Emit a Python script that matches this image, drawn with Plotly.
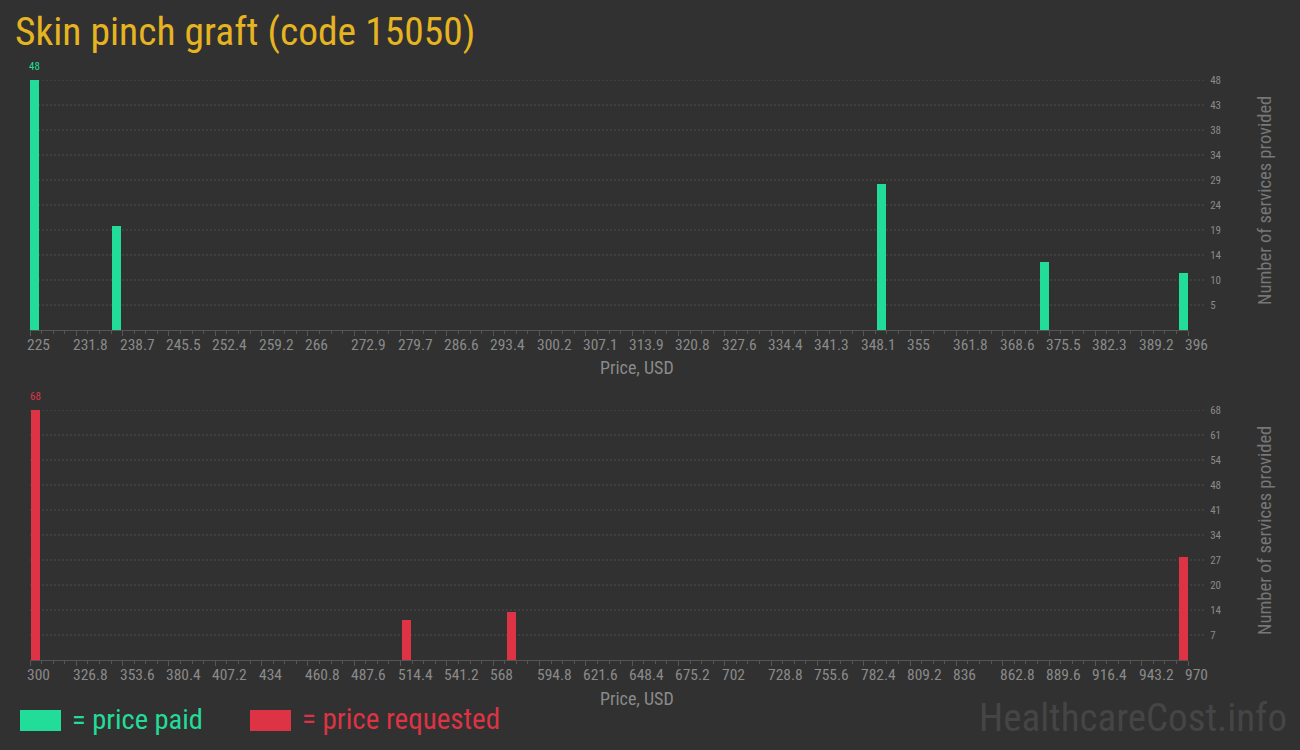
import plotly.graph_objects as go

# ---------------- data ----------------
paid_prices = [225.7, 237.8, 350.8, 374.8, 395.3]
paid_counts = [48, 20, 28, 13, 11]
paid_range = [225, 396]

req_prices = [303.2, 517.8, 578.3, 967.4]
req_counts = [68, 11, 13, 28]
req_range = [300, 970]

title_text = "Skin pinch graft (code 15050)"
x_title = "Price, USD"
y_title = "Number of services provided"
legend_paid = "= price paid"
legend_req = "= price requested"
watermark = "HealthcareCost.info"

# ---------------- style ----------------
W, H = 1300, 750
BG = "#313131"
GREEN = "#22dd99"
RED = "#dd3344"
GOLD = "#e6b420"
TICK_C = "#8a8a8a"
GRID_C = "#4e4e4e"
AXIS_C = "#555555"
COND = "Roboto Condensed, Liberation Sans Narrow, DejaVu Sans Condensed, sans-serif"
NARROW = "Liberation Sans Narrow, Roboto Condensed, DejaVu Sans Condensed, sans-serif"

PX_L, PX_R = 30, 1188
panels = [
    dict(top=80, bot=330, prices=paid_prices, counts=paid_counts, rng=paid_range,
         color=GREEN, bw_px=9),
    dict(top=410, bot=660, prices=req_prices, counts=req_counts, rng=req_range,
         color=RED, bw_px=9),
]

def px_x(p):
    return p / W

def px_y(p):
    return 1 - p / H

def fmt(v):
    s = f"{v:.1f}"
    return s[:-2] if s.endswith(".0") else s

fig = go.Figure()
shapes = []
annotations = []

for i, pn in enumerate(panels):
    xa = "x" if i == 0 else "x2"
    ya = "y" if i == 0 else "y2"
    lo, hi = pn["rng"]
    span = hi - lo
    width_data = pn["bw_px"] / (PX_R - PX_L) * span
    mx = max(pn["counts"])
    fig.add_trace(go.Bar(
        x=pn["prices"], y=pn["counts"], width=width_data,
        marker=dict(color=pn["color"], line=dict(width=0)),
        cliponaxis=False, xaxis=xa, yaxis=ya, showlegend=False,
        hoverinfo="x+y",
    ))
    # value label above the tallest bar
    for p, c in zip(pn["prices"], pn["counts"]):
        if c == mx:
            annotations.append(dict(text=str(c), xref=xa, yref=ya, x=p, y=c,
                                    xanchor="center", yanchor="bottom", yshift=5,
                                    showarrow=False,
                                    font=dict(family=NARROW, size=11, color=pn["color"])))
    n = 25
    step = span / n
    xt = [lo + step * k for k in range(n + 1)]
    axis_common = dict(
        domain=[px_x(PX_L), px_x(PX_R)],
        range=[lo, hi], automargin=False,
        tickmode="array", tickvals=xt, showticklabels=False,
        ticks="outside", ticklen=5, tickcolor=AXIS_C, tickwidth=1,
        showline=True, linecolor=AXIS_C, linewidth=1,
        showgrid=False, zeroline=False,
        minor=dict(ticks="outside", ticklen=3, tickcolor=AXIS_C,
                   tick0=lo, dtick=step / 4, showgrid=False),
        fixedrange=True,
    )
    # x tick labels, left-aligned at their tick like the reference
    for v in xt:
        annotations.append(dict(text=fmt(v), xref=xa, yref="paper", x=v,
                                y=px_y(pn["bot"] + 15), xanchor="left",
                                yanchor="middle", xshift=-5, showarrow=False,
                                font=dict(family=NARROW, size=15.5, color=TICK_C)))
    ystep = mx / 10
    yt = [ystep * k for k in range(1, 11)]
    yaxis_common = dict(
        domain=[px_y(pn["bot"]), px_y(pn["top"])],
        range=[0, mx], side="right", automargin=False,
        tickmode="array", tickvals=yt, ticktext=[str(round(v)) for v in yt],
        ticks="outside", ticklen=19, tickcolor="rgba(0,0,0,0)",
        showgrid=False, zeroline=False, showline=False,
        tickfont=dict(family=NARROW, size=11, color=TICK_C),
        fixedrange=True,
    )
    if i == 0:
        fig.update_layout(xaxis=dict(anchor="y", **axis_common),
                          yaxis=dict(anchor="x", **yaxis_common))
    else:
        fig.update_layout(xaxis2=dict(anchor="y2", **axis_common),
                          yaxis2=dict(anchor="x2", **yaxis_common))
    # dashed gridlines extending into the tick label area
    for v in yt:
        shapes.append(dict(type="line", xref="paper", yref=ya,
                           x0=px_x(PX_L), x1=px_x(1205), y0=v, y1=v,
                           line=dict(color=GRID_C, width=1, dash="2px,2px"),
                           layer="below"))
    # axis titles
    annotations.append(dict(text=x_title, xref="paper", yref="paper",
                            x=px_x(637), y=px_y(pn["bot"] + 38),
                            xanchor="center", yanchor="middle", showarrow=False,
                            font=dict(family=COND, size=18, color=TICK_C)))
    annotations.append(dict(text=y_title, xref="paper", yref="paper",
                            x=px_x(1265), y=px_y((pn["top"] + pn["bot"]) / 2 - 4),
                            xanchor="center", yanchor="middle", textangle=-90,
                            showarrow=False,
                            font=dict(family=COND, size=18.5, color="#777777")))

# title
annotations.append(dict(text=title_text, xref="paper", yref="paper",
                        x=px_x(13), y=px_y(32), xanchor="left", yanchor="middle",
                        showarrow=False, font=dict(family=COND, size=39.5, color=GOLD)))
# legend
shapes.append(dict(type="rect", xref="paper", yref="paper",
                   x0=px_x(20), x1=px_x(61), y0=px_y(731), y1=px_y(710),
                   fillcolor=GREEN, line=dict(width=0)))
shapes.append(dict(type="rect", xref="paper", yref="paper",
                   x0=px_x(250), x1=px_x(291), y0=px_y(731), y1=px_y(710),
                   fillcolor=RED, line=dict(width=0)))
annotations.append(dict(text=legend_paid, xref="paper", yref="paper",
                        x=px_x(70), y=px_y(719), xanchor="left", yanchor="middle",
                        showarrow=False, font=dict(family=COND, size=28.5, color=GREEN)))
annotations.append(dict(text=legend_req, xref="paper", yref="paper",
                        x=px_x(300), y=px_y(719), xanchor="left", yanchor="middle",
                        showarrow=False, font=dict(family=COND, size=29, color=RED)))
# watermark
annotations.append(dict(text=watermark, xref="paper", yref="paper",
                        x=px_x(1289), y=px_y(718), xanchor="right", yanchor="middle",
                        showarrow=False, font=dict(family=COND, size=39, color="#454545")))

fig.update_layout(
    width=W, height=H, autosize=False,
    margin=dict(l=0, r=0, t=0, b=0, pad=0),
    paper_bgcolor=BG, plot_bgcolor=BG,
    shapes=shapes, annotations=annotations,
    bargap=0, showlegend=False,
)

fig.write_html("out.html", include_plotlyjs=True, full_html=True,
               config={"displayModeBar": False, "responsive": False},
               post_script="document.body.style.margin='0';"
                           "document.documentElement.style.overflow='hidden';"
                           "document.body.style.background='#313131';")
